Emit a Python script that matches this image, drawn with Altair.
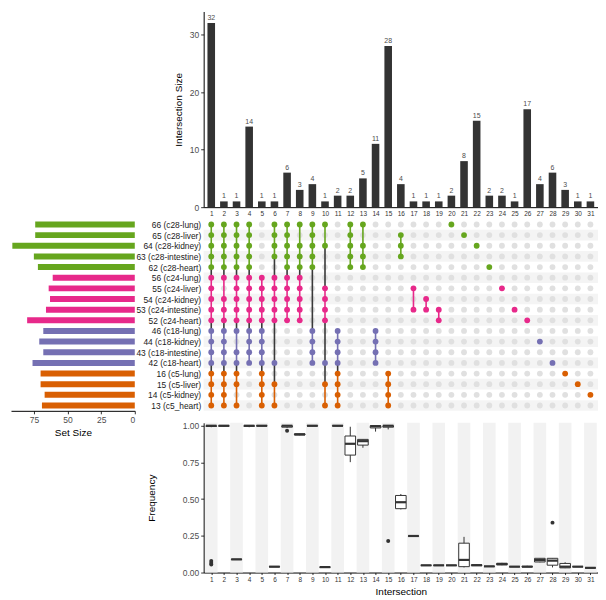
import altair as alt
import pandas as pd

# ---------------- data ----------------
set_names = ["66 (c28-lung)", "65 (c28-liver)", "64 (c28-kidney)", "63 (c28-intestine)", "62 (c28-heart)",
             "56 (c24-lung)", "55 (c24-liver)", "54 (c24-kidney)", "53 (c24-intestine)", "52 (c24-heart)",
             "46 (c18-lung)", "44 (c18-kidney)", "43 (c18-intestine)", "42 (c18-heart)",
             "16 (c5-lung)", "15 (c5-liver)", "14 (c5-kidney)", "13 (c5_heart)"]
set_groups = ["c28"] * 5 + ["c24"] * 5 + ["c18"] * 4 + ["c5"] * 4
set_sizes = [74, 74, 91, 75, 72, 61, 64, 63, 66, 80, 68, 71, 68, 76, 70, 70, 67, 69]

group_colors = {"c28": "#66a61e", "c24": "#e7298a", "c18": "#7570b3", "c5": "#d95f02"}

intersection_ids = list(range(1, 32))
intersection_sizes = [32, 1, 1, 14, 1, 1, 6, 3, 4, 1, 2, 2, 5, 11, 28, 4, 1, 1, 1, 2, 8, 15, 2, 2, 1, 17, 4, 6, 3, 1, 1]
# member rows (index into set_names) of each intersection
intersection_members = [
    list(range(0, 18)),
    [r for r in range(18) if r != 6],
    [r for r in range(18) if r not in (11, 16)],
    list(range(0, 14)),
    list(range(5, 18)),
    [0, 1, 2, 3, 5, 6, 7, 8, 9, 13, 15, 17],
    list(range(0, 10)),
    [0, 2, 3, 4, 5, 6, 7, 8, 9],
    [0, 1, 2, 3, 4, 10, 11, 12, 13],
    [0, 2, 6, 7, 8, 9, 13, 15, 17],
    list(range(10, 18)),
    [0, 1, 2, 3, 4],
    [0, 2, 3, 4],
    [10, 11, 12, 13],
    [14, 15, 16, 17],
    [1, 2, 3],
    [6, 8],
    [7, 8],
    [8, 9],
    [0], [1], [2], [4], [6], [8], [9], [11], [13], [14], [15], [16],
]

# frequency box plot summaries per intersection
box_low = [0.990, 0.995, 0.088, 0.990, 0.997, 0.038, 0.985, 0.935, 0.997, 0.035, 0.997, 0.752, 0.850, 0.960, 0.975, 0.430,
           0.248, 0.049, 0.049, 0.049, 0.035, 0.045, 0.042, 0.050, 0.040, 0.038, 0.070, 0.035, 0.030, 0.040, 0.032]
box_q1 = [0.995, 0.997, 0.088, 0.996, 0.998, 0.039, 0.990, 0.937, 0.998, 0.036, 0.998, 0.800, 0.868, 0.985, 0.990, 0.435,
          0.248, 0.049, 0.049, 0.049, 0.040, 0.047, 0.042, 0.052, 0.040, 0.038, 0.072, 0.050, 0.032, 0.040, 0.032]
box_median = [1.000, 1.000, 0.090, 1.000, 1.000, 0.040, 1.000, 0.941, 1.000, 0.037, 1.000, 0.877, 0.895, 0.997, 1.000, 0.479,
              0.249, 0.049, 0.049, 0.049, 0.086, 0.050, 0.042, 0.058, 0.040, 0.040, 0.085, 0.081, 0.040, 0.040, 0.032]
box_q3 = [1.000, 1.000, 0.090, 1.000, 1.000, 0.040, 1.000, 0.945, 1.000, 0.037, 1.000, 0.930, 0.907, 1.000, 1.000, 0.525,
          0.249, 0.049, 0.049, 0.049, 0.200, 0.053, 0.042, 0.063, 0.040, 0.042, 0.097, 0.097, 0.062, 0.040, 0.032]
box_high = [1.000, 1.000, 0.090, 1.000, 1.000, 0.040, 1.000, 0.945, 1.000, 0.037, 1.000, 0.993, 0.907, 1.000, 1.000, 0.535,
            0.249, 0.049, 0.049, 0.049, 0.243, 0.055, 0.042, 0.066, 0.040, 0.046, 0.098, 0.097, 0.070, 0.040, 0.032]
outlier_ids = [1, 1, 1, 7, 15, 28]
outlier_values = [0.055, 0.065, 0.078, 0.966, 0.215, 0.340]

# ---------------- tables ----------------
n_rows = len(set_names)
sets_df = pd.DataFrame({"row": list(range(n_rows)), "name": set_names, "group": set_groups,
                        "size": set_sizes,
                        "color": [group_colors[g] for g in set_groups]})
inter_df = pd.DataFrame({"id": intersection_ids, "size": intersection_sizes})

cells = []
segs = []
for cid, mem in zip(intersection_ids, intersection_members):
    mem = sorted(mem)
    for r in range(n_rows):
        cells.append({"id": cid, "row": r, "member": r in mem,
                      "color": group_colors[set_groups[r]] if r in mem else "#e0e0e0"})
    for a, b in zip(mem[:-1], mem[1:]):
        col = group_colors[set_groups[a]] if set_groups[a] == set_groups[b] else "#3a3a3a"
        segs.append({"id": cid, "r0": a, "r1": b, "color": col})
cells_df = pd.DataFrame(cells)
segs_df = pd.DataFrame(segs)
row_shade_df = pd.DataFrame({"row": [r for r in range(n_rows) if r % 2 == 1]})
col_shade_df = pd.DataFrame({"id": [c for c in intersection_ids if c % 2 == 1]})
box_df = pd.DataFrame({"id": intersection_ids, "lo": box_low, "q1": box_q1, "med": box_median,
                       "q3": box_q3, "hi": box_high})
out_df = pd.DataFrame({"id": outlier_ids, "v": outlier_values})

# ---------------- layout ----------------
FONT = "Liberation Sans"
W_RIGHT = 395
W_LEFT = 124
H_TOP = 196
H_MAT = 192
H_BOX = 150

X_LO, X_HI = 0.4, 31.6
xs = alt.Scale(domain=[X_LO, X_HI], nice=False, zero=False)
ys_mat = alt.Scale(domain=[-0.5, n_rows - 0.5], reverse=True, nice=False, zero=False)
ys_top = alt.Scale(domain=[0, 34], nice=False)
ys_box = alt.Scale(domain=[0, 1.02], nice=False)
label_expr = "[" + ",".join("'" + n + "'" for n in set_names) + "][datum.value]"

AX_TOP_X = alt.Axis(values=intersection_ids, title=None, ticks=False, labelFontSize=6.5,
                    labelPadding=3, domainColor="#000000", labelColor="#333333", grid=False,
                    labelOverlap=False)
AX_TOP_Y = alt.Axis(values=[0, 10, 20, 30], title="Intersection Size", titleFontSize=10,
                    titleFontWeight="normal", titlePadding=6, labelFontSize=8.5,
                    labelColor="#4d4d4d", tickSize=3, domainColor="#000000", grid=False,
                    labelOverlap=False)
AX_MAT_Y = alt.Axis(values=list(range(n_rows)), labelExpr=label_expr, title=None, ticks=False,
                    domain=False, labelFontSize=8.4, labelColor="#1a1a1a", labelPadding=3, grid=False,
                    labelOverlap=False, labelBound=False, labelFlush=False)
AX_BOX_X = alt.Axis(values=intersection_ids, title="Intersection", titleFontSize=10,
                    titleFontWeight="normal", titlePadding=3, tickSize=2, labelFontSize=6.5,
                    labelPadding=2, labelColor="#333333", domainColor="#000000", grid=False,
                    labelOverlap=False)
AX_BOX_Y = alt.Axis(values=[0, 0.25, 0.5, 0.75, 1.0], format=".2f", title="Frequency",
                    titleFontSize=10, titleFontWeight="normal", titlePadding=26, labelFontSize=8.5,
                    labelColor="#4d4d4d", tickSize=3, domainColor="#000000", grid=False,
                    labelOverlap=False)

# top intersection size bars
top_bars = alt.Chart(inter_df).transform_calculate(
    x0="datum.id - 0.3", x1="datum.id + 0.3", zero="0").mark_bar(color="#333333").encode(
    x=alt.X("x0:Q", scale=xs, axis=AX_TOP_X), x2="x1:Q",
    y=alt.Y("size:Q", scale=ys_top, axis=AX_TOP_Y), y2="zero:Q",
)
top_text = alt.Chart(inter_df).mark_text(fontSize=7, dy=-5, color="#4d4d4d").encode(
    x=alt.X("id:Q", scale=xs, axis=AX_TOP_X), y=alt.Y("size:Q", scale=ys_top, axis=AX_TOP_Y),
    text="size:Q")
top_chart = alt.layer(top_bars, top_text).properties(width=W_RIGHT, height=H_TOP)

# matrix
mat_shade = alt.Chart(row_shade_df).transform_calculate(
    y0="datum.row - 0.5", y1="datum.row + 0.5", xa=str(X_LO), xb=str(X_HI)).mark_rect(color="#f4f4f4").encode(
    x=alt.X("xa:Q", scale=xs, axis=None), x2="xb:Q",
    y=alt.Y("y0:Q", scale=ys_mat, axis=AX_MAT_Y), y2="y1:Q")
mat_grey = alt.Chart(cells_df).transform_filter("!datum.member").mark_circle(size=34, opacity=1).encode(
    x=alt.X("id:Q", scale=xs, axis=None), y=alt.Y("row:Q", scale=ys_mat, axis=AX_MAT_Y),
    color=alt.Color("color:N", scale=None))
mat_segs = alt.Chart(segs_df).mark_rule(strokeWidth=1.6).encode(
    x=alt.X("id:Q", scale=xs, axis=None), y=alt.Y("r0:Q", scale=ys_mat, axis=AX_MAT_Y), y2="r1:Q",
    color=alt.Color("color:N", scale=None))
mat_dots = alt.Chart(cells_df).transform_filter("datum.member").mark_circle(size=34, opacity=1).encode(
    x=alt.X("id:Q", scale=xs, axis=None), y=alt.Y("row:Q", scale=ys_mat, axis=AX_MAT_Y),
    color=alt.Color("color:N", scale=None))
matrix = alt.layer(mat_shade, mat_grey, mat_segs, mat_dots).properties(width=W_RIGHT, height=H_MAT)

# set size bars
set_bars = alt.Chart(sets_df).transform_calculate(
    y0="datum.row - 0.28", y1="datum.row + 0.28", zero="0").mark_bar().encode(
    x=alt.X("size:Q", scale=alt.Scale(domain=[0, 92], reverse=True, nice=False),
            axis=alt.Axis(values=[0, 25, 50, 75], title="Set Size", titleFontSize=10,
                          titleFontWeight="normal", titlePadding=3, labelFontSize=8.5,
                          labelColor="#4d4d4d", tickSize=3, domainColor="#000000", grid=False,
                          labelOverlap=False)),
    x2="zero:Q",
    y=alt.Y("y0:Q", scale=ys_mat, axis=None), y2="y1:Q",
    color=alt.Color("color:N", scale=None),
).properties(width=W_LEFT, height=H_MAT)

# box plot
box_shade = alt.Chart(col_shade_df).transform_calculate(
    x0="datum.id - 0.5", x1="datum.id + 0.5", ya="0", yb="1.02").mark_rect(color="#f2f2f2").encode(
    x=alt.X("x0:Q", scale=xs, axis=AX_BOX_X), x2="x1:Q",
    y=alt.Y("ya:Q", scale=ys_box, axis=AX_BOX_Y), y2="yb:Q")
bb = alt.Chart(box_df).transform_calculate(x0="datum.id - 0.42", x1="datum.id + 0.42")
box_whisk = bb.mark_rule(color="#333333", strokeWidth=1).encode(
    x=alt.X("id:Q", scale=xs, axis=AX_BOX_X), y=alt.Y("lo:Q", scale=ys_box, axis=AX_BOX_Y), y2="hi:Q")
box_box = bb.mark_rect(fill="#ffffff", stroke="#333333", strokeWidth=1).encode(
    x=alt.X("x0:Q", scale=xs, axis=AX_BOX_X), x2="x1:Q",
    y=alt.Y("q1:Q", scale=ys_box, axis=AX_BOX_Y), y2="q3:Q")
box_med = bb.mark_rule(color="#333333", strokeWidth=2.2).encode(
    x=alt.X("x0:Q", scale=xs, axis=AX_BOX_X), x2="x1:Q",
    y=alt.Y("med:Q", scale=ys_box, axis=AX_BOX_Y))
box_out = alt.Chart(out_df).mark_circle(size=16, color="#333333", opacity=1).encode(
    x=alt.X("id:Q", scale=xs, axis=AX_BOX_X), y=alt.Y("v:Q", scale=ys_box, axis=AX_BOX_Y))
box_chart = alt.layer(box_shade, box_whisk, box_box, box_med, box_out).properties(
    width=W_RIGHT, height=H_BOX)


def spacer(h):
    return alt.Chart(pd.DataFrame({"a": [0]})).mark_point(opacity=0).encode(
        x=alt.value(0), y=alt.value(0)).properties(width=W_LEFT, height=h)


chart = alt.concat(
    spacer(H_TOP), top_chart,
    set_bars, matrix,
    spacer(H_BOX), box_chart,
    columns=2, spacing={"row": 12, "column": 69}, bounds="flush", align="each",
).properties(
    padding=0, background="#ffffff"
).configure_view(stroke=None).configure_axis(
    labelFont=FONT, titleFont=FONT, titleColor="#000000", tickColor="#333333"
).configure_text(font=FONT)

chart.save("out.html", embed_options={"renderer": "svg", "actions": False})
